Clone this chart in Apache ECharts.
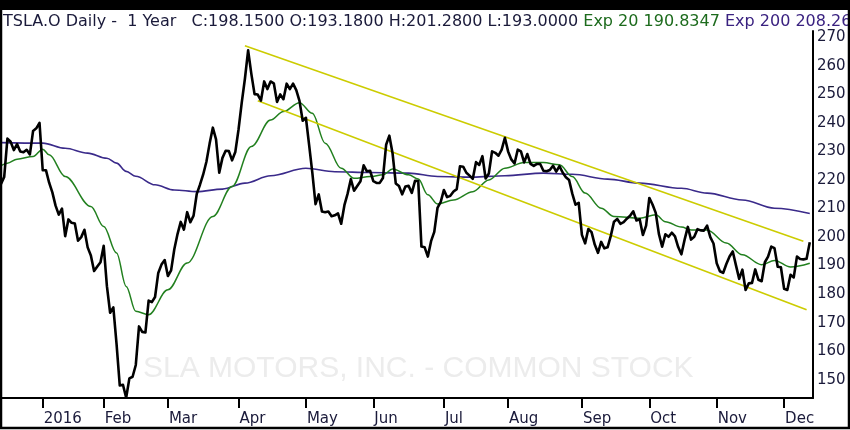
<!DOCTYPE html>
<html><head><meta charset="utf-8">
<script src="https://cdn.jsdelivr.net/npm/echarts@6.0.0/dist/echarts.min.js"></script>
<style>html,body{margin:0;padding:0;background:#fff}#c{width:850px;height:430px}</style>
</head><body><div id="c"></div>
<script>
// Daily closes, trading days Dec 14 2015 .. Dec 13 2016
const closeDec2015 = [218.58, 221.09, 234.51, 233.39, 230.46, 232.56, 229.95, 229.70, 230.57, 228.95, 237.19, 238.09, 240.01];
const closeJan = [223.41, 223.43, 219.04, 215.65, 211.00, 207.85, 209.97, 200.31, 206.18, 204.99, 204.72, 198.70, 199.97, 202.55, 196.38, 193.56, 188.07, 189.70, 191.20];
const closeFeb = [196.94, 182.78, 173.48, 175.33, 162.60, 147.99, 148.25, 143.67, 150.47, 151.04, 155.17, 168.68, 166.77, 166.58, 177.74, 177.21, 179.00, 187.43, 190.34, 191.93];
const closeMar = [186.35, 188.34, 195.74, 201.04, 205.29, 202.60, 208.72, 205.18, 207.50, 215.15, 218.34, 221.93, 226.38, 232.74, 238.32, 234.24, 222.58, 227.75, 230.26, 230.13, 226.89, 229.77];
const closeApr = [237.59, 246.99, 255.47, 265.42, 257.20, 250.07, 249.92, 247.82, 254.53, 251.86, 254.51, 253.88, 247.37, 249.97, 248.29, 253.75, 251.82, 253.74, 251.47, 247.71, 240.76];
const closeMay = [241.80, 232.32, 222.56, 211.53, 214.93, 208.92, 208.69, 208.96, 207.28, 207.61, 208.29, 204.66, 211.17, 215.21, 220.28, 216.22, 217.91, 219.58, 225.12, 223.04, 223.23];
const closeJun = [219.56, 218.96, 218.99, 220.68, 232.34, 235.52, 229.36, 218.79, 217.87, 214.96, 217.70, 217.93, 215.47, 219.70, 219.61, 196.66, 196.40, 193.15, 198.55, 201.79, 210.19, 212.28];
const closeJul = [216.50, 213.98, 214.44, 215.94, 216.78, 224.78, 224.65, 222.53, 221.53, 220.40, 226.25, 225.26, 228.36, 220.50, 222.27, 230.01, 229.51, 228.49, 230.61, 234.79];
const closeAug = [230.01, 227.20, 225.79, 230.61, 230.03, 226.16, 229.08, 225.65, 224.91, 225.61, 225.59, 223.24, 223.04, 223.51, 225.00, 222.93, 224.84, 222.62, 220.96, 219.99, 215.20, 211.34, 212.01];
const closeSep = [200.77, 197.78, 202.83, 201.71, 197.36, 194.47, 198.30, 196.05, 196.41, 200.42, 205.40, 206.34, 204.64, 205.22, 206.43, 207.45, 208.99, 205.81, 206.27, 200.70, 204.03];
const closeOct = [213.70, 211.41, 208.46, 201.00, 196.61, 200.95, 200.10, 201.51, 200.24, 196.51, 193.96, 199.10, 203.56, 199.10, 200.09, 202.76, 202.34, 202.24, 204.01, 199.97, 197.73];
const closeNov = [190.79, 188.02, 187.42, 190.56, 193.21, 194.94, 190.06, 185.35, 188.56, 181.45, 183.77, 183.93, 188.66, 185.02, 184.52, 191.17, 193.14, 196.65, 196.12, 189.57, 189.40];
const closeDec = [181.88, 181.47, 186.80, 185.85, 193.15, 192.29, 192.18, 192.43, 198.15];

// EMA lines: [trading-day index, value]
const ema20 = [[0,225],[2,225.9],[5,227.3],[10,228.2],[13,230.8],[15,228.8],[20,221.2],[28,210.7],[32,203.7],[36,194.4],[39,182.7],[42,174],[46,172.8],[52,181.5],[58,190.9],[66,207.2],[72,217.7],[78,231.7],[84,241],[88,244],[93,247.1],[97,243.4],[101,232.9],[106,224.1],[110,220.6],[115,221.2],[119,221.8],[122,223.8],[127,221.8],[130,220.3],[133,214.8],[136,211.6],[141,213],[147,215.9],[152,220],[157,224.1],[163,226.1],[169,226.1],[174,225.3],[178,221.2],[182,215.4],[187,210.1],[191,207.2],[199,206.6],[204,207.8],[207,205.4],[212,203.5],[215,202.5],[220,202.5],[226,197.9],[231,193.8],[237,190.3],[241,191.8],[246,189.5],[252,190.83]];
const ema200 = [[0,233.1],[13,232.9],[20,231.1],[27,229.4],[33,227.6],[36,225.9],[39,223],[42,221.3],[48,218.3],[54,216.5],[61,215.9],[69,216.8],[76,218.9],[84,221.5],[95,224.1],[104,222.9],[115,222.6],[127,222.4],[136,221.2],[147,221],[157,221.5],[169,222.4],[178,222],[189,220.3],[199,218.9],[212,217.1],[220,215.4],[231,213],[241,210.1],[252,208.26]];
const upperTrend = [[76,267.0],[250,198.5]];
const lowerTrend = [[80,247.8],[251,174.5]];

const monthStarts = [13,32,52,74,95,116,138,158,181,202,223,244];
const monthLabels = ['2016','Feb','Mar','Apr','May','Jun','Jul','Aug','Sep','Oct','Nov','Dec'];
const yTicks = [150,160,170,180,190,200,210,220,230,240,250,260,270];

const closes = [].concat(closeDec2015, closeJan, closeFeb, closeMar, closeApr, closeMay, closeJun, closeJul, closeAug, closeSep, closeOct, closeNov, closeDec);
const categories = [];
for (let i = 0; i <= closes.length; i++) categories.push(String(i));

const FONT = 'DejaVu Sans';
const TXT = '#1a1a3a';
const isMonth = (idx) => monthStarts.indexOf(idx) >= 0;

const chart = echarts.init(document.getElementById('c'), null, {renderer: 'canvas'});
chart.setOption({
  animation: false,
  backgroundColor: '#fff',
  title: {
    left: 3, top: 13, padding: 0,
    text: '{a|TSLA.O Daily -  1 Year   C:198.1500 O:193.1800 H:201.2800 L:193.0000 }{g|Exp 20 190.8347 }{p|Exp 200 208.2657}',
    textStyle: {
      fontWeight: 'normal',
      rich: {
        a: {color: TXT, fontFamily: FONT, fontSize: 16, fontWeight: 'normal', lineHeight: 18},
        g: {color: '#1d6b1d', fontFamily: FONT, fontSize: 16, fontWeight: 'normal', lineHeight: 18},
        p: {color: '#3a2280', fontFamily: FONT, fontSize: 16, fontWeight: 'normal', lineHeight: 18}
      }
    }
  },
  graphic: [
    {type: 'text', z: 0, x: 143, y: 369,
     style: {text: 'SLA MOTORS, INC. - COMMON STOCK', fill: '#ececec', font: "30px 'Liberation Sans'", verticalAlign: 'middle', align: 'left'}},
    {type: 'rect', z: 100, shape: {x: 0, y: 0, width: 850, height: 10}, style: {fill: '#000'}},
    {type: 'rect', z: 100, shape: {x: 1, y: 1, width: 848, height: 427}, style: {fill: 'none', stroke: '#000', lineWidth: 2.5}}
  ],
  grid: {left: 1, right: 37, top: 31, bottom: 32},
  xAxis: {
    type: 'category', data: categories, boundaryGap: false,
    axisLine: {lineStyle: {color: '#000', width: 2}},
    axisTick: {show: true, length: 10, interval: (i) => isMonth(i), lineStyle: {color: '#000', width: 2}},
    axisLabel: {
      interval: (i) => isMonth(i), align: 'left', padding: [0,0,0,1], margin: 14,
      color: TXT, fontFamily: FONT, fontSize: 15,
      formatter: (v, i) => monthLabels[monthStarts.indexOf(Number(v))] || ''
    },
    splitLine: {show: false}
  },
  yAxis: {
    type: 'value', position: 'right', min: 143.6, max: 272.2, scale: true,
    axisLine: {show: true, lineStyle: {color: '#000', width: 2}},
    axisTick: {show: false},
    splitLine: {show: false},
    axisLabel: {customValues: yTicks, color: TXT, fontFamily: FONT, fontSize: 15, margin: 4, align: 'left'}
  },
  series: [
    {name: 'Exp 200', type: 'line', data: ema200, showSymbol: false, smooth: 0.35, smoothMonotone: 'x', z: 3,
     lineStyle: {color: '#3a2a8a', width: 1.6}},
    {name: 'Exp 20', type: 'line', data: ema20, showSymbol: false, smooth: 0.35, smoothMonotone: 'x', z: 3,
     lineStyle: {color: '#22801f', width: 1.5}},
    {name: 'Upper', type: 'line', data: upperTrend, showSymbol: false, z: 4,
     lineStyle: {color: '#cccc00', width: 1.6}},
    {name: 'Lower', type: 'line', data: lowerTrend, showSymbol: false, z: 4,
     lineStyle: {color: '#cccc00', width: 1.6}},
    {name: 'Close', type: 'line', data: closes, showSymbol: false, z: 5,
     lineStyle: {color: '#000', width: 2.6, join: 'round'}}
  ]
});
</script>
</body></html>
